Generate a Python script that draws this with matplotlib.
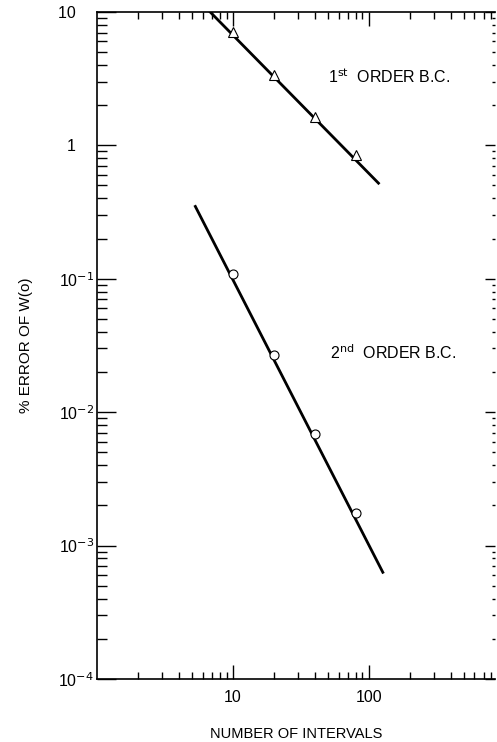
import matplotlib
matplotlib.use("Agg")
import matplotlib.pyplot as plt
from matplotlib.ticker import LogLocator, FixedLocator, NullFormatter
import numpy as np

plt.rcParams['font.family'] = ['Liberation Sans', 'DejaVu Sans']

# data
intervals = [10, 20, 40, 80]
err_first = [7.1, 3.37, 1.63, 0.84]
err_second = [0.109, 0.027, 0.0068, 0.00174]

# fitted lines drawn through the points
fit_first_x = [6.8, 118]
fit_first_y = [10.0, 0.52]
fit_second_x = [5.3, 127]
fit_second_y = [0.348, 0.00063]

yt = [1e-4, 1e-3, 1e-2, 1e-1, 1, 10]
yt_labels = ['10$^{-4}$', '10$^{-3}$', '10$^{-2}$', '10$^{-1}$', '1    ', '10    ']

fig = plt.figure(figsize=(4.97, 7.42), dpi=100)
ax = fig.add_axes([0.195, 0.085, 0.801, 0.899])

ax.set_xscale('log')
ax.set_yscale('log')
ax.set_xlim(1, 850)
ax.set_ylim(1e-4, 10)

ax.plot(fit_first_x, fit_first_y, color='black', lw=2.0, zorder=2)
ax.plot(fit_second_x, fit_second_y, color='black', lw=2.0, zorder=2)
ax.plot(intervals, err_first, linestyle='none', marker='^', ms=7,
        mfc='white', mec='black', mew=0.8, zorder=3)
ax.plot(intervals, err_second, linestyle='none', marker='o', ms=6.5,
        mfc='white', mec='black', mew=0.8, zorder=3)

ax.text(50, 3.26, '1$^{\\rm st}$  ORDER B.C.', fontsize=11.5, va='center')
ax.text(52, 0.0279, '2$^{\\rm nd}$  ORDER B.C.', fontsize=11.5, va='center')

ax.xaxis.set_major_locator(FixedLocator([10, 100]))
ax.set_xticklabels(['10', '100'])
ax.xaxis.set_minor_locator(LogLocator(base=10, subs=np.arange(2, 10), numticks=20))
ax.xaxis.set_minor_formatter(NullFormatter())

ax.yaxis.set_major_locator(FixedLocator(yt))
ax.set_yticklabels(yt_labels)
ax.yaxis.set_minor_locator(LogLocator(base=10, subs=np.arange(2, 10), numticks=20))
ax.yaxis.set_minor_formatter(NullFormatter())

ax.tick_params(which='both', direction='in', top=True, right=False,
               labelsize=11.5, width=1.0, pad=8)
ax.tick_params(which='major', length=10)
ax.tick_params(which='minor', length=5)
ax.tick_params(axis='y', which='major', length=14, pad=2)
ax.tick_params(axis='y', which='minor', length=7)

# short ticks on the right edge
sec = ax.secondary_yaxis('right')
sec.yaxis.set_major_locator(FixedLocator(yt))
sec.yaxis.set_minor_locator(LogLocator(base=10, subs=np.arange(2, 10), numticks=20))
sec.tick_params(which='both', direction='in', labelright=False, width=1.0)
sec.tick_params(which='major', length=7)
sec.tick_params(which='minor', length=2.5)
sec.spines['right'].set_visible(False)

for s in ['left', 'bottom', 'top']:
    ax.spines[s].set_linewidth(1.2)
ax.spines['right'].set_visible(False)

ax.set_xlabel('NUMBER OF INTERVALS', fontsize=10.5, labelpad=16)
ax.set_ylabel('% ERROR OF W(o)', fontsize=11)
ax.yaxis.set_label_coords(-0.16, 0.5)

fig.savefig('out.png', dpi=100)
